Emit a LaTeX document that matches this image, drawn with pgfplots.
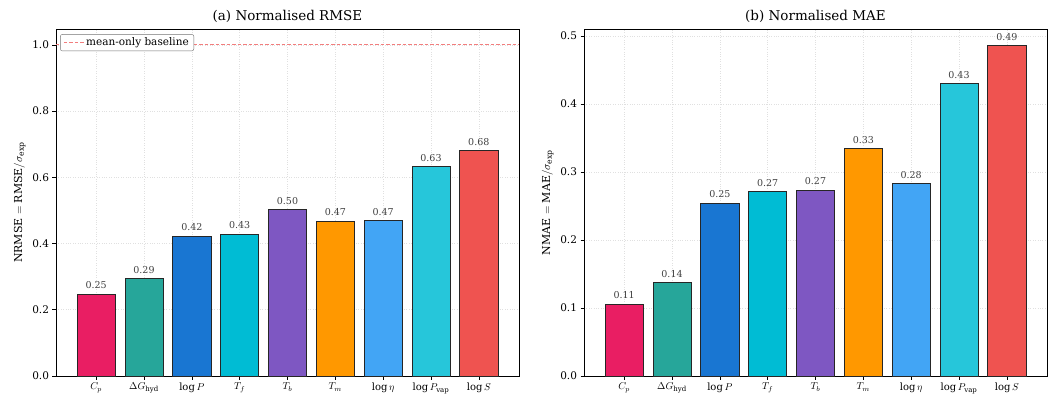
\documentclass[border=0pt]{standalone}
\usepackage{pgfplots}
\pgfplotsset{compat=1.18}
\usepackage{fontspec}
\setmainfont{DejaVu Serif}
\definecolor{cCp}{HTML}{E91E63}
\definecolor{cDG}{HTML}{26A69A}
\definecolor{cLP}{HTML}{1976D2}
\definecolor{cTf}{HTML}{00BCD4}
\definecolor{cTb}{HTML}{7E57C2}
\definecolor{cTm}{HTML}{FF9800}
\definecolor{cEta}{HTML}{42A5F5}
\definecolor{cPv}{HTML}{26C6DA}
\definecolor{cS}{HTML}{EF5350}
\definecolor{baseRed}{RGB}{242,125,125}
\pgfplotsset{
  panel/.style={
    scale only axis, width=463pt, height=347pt, anchor=south west,
    xmin=-0.84, xmax=8.84, ymin=0,
    xtick={0,...,8},
    xticklabels={$C_p$,$\Delta G_{\mathrm{hyd}}$,$\log P$,$T_f$,$T_b$,$T_m$,$\log\eta$,$\log P_{\mathrm{vap}}$,$\log S$},
    x tick label style={font=\fontsize{10}{11}\selectfont},
    y tick label style={font=\fontsize{10.5}{12}\selectfont},
    /pgf/number format/assume math mode=true,
    yticklabel style={/pgf/number format/.cd, fixed, fixed zerofill, precision=1},
    tick align=outside, tick pos=left,
    major tick length=3.5pt,
    every tick/.style={black, line width=0.6pt},
    axis line style={line width=0.8pt},
    grid=major, major grid style={dotted, black!12, line width=0.6pt},
    title style={font=\fontsize{13.5}{15}\selectfont, yshift=-3pt},
    ylabel style={font=\fontsize{11}{13}\selectfont},
  },
  barsty/.style={ybar, bar width=0.8, bar shift=0pt, fill=#1, draw=black!85, line width=0.7pt, forget plot,
    nodes near coords={\pgfmathprintnumber[fixed,fixed zerofill,precision=2,assume math mode=true]{\pgfplotspointmeta}},
    every node near coord/.append style={font=\fontsize{9.5}{11}\selectfont, color=black!75, yshift=1.5pt}},
}
\begin{document}
\begin{tikzpicture}[x=1pt,y=1pt]
\useasboundingbox (0,0) rectangle (1054,394);
\begin{axis}[panel, at={(56pt,18pt)}, ymax=1.048,
  ytick={0,0.2,0.4,0.6,0.8,1.0},
  title={(a) Normalised RMSE},
  ylabel={NRMSE $=\mathrm{RMSE}/\sigma_{\mathrm{exp}}$},
  legend style={at={(0.009,0.985)}, anchor=north west, font=\fontsize{10.5}{12}\selectfont, draw=black!55, rounded corners=2pt, inner xsep=3pt, inner ysep=1.5pt, fill=white},
  legend cell align=left,
  legend image code/.code={\draw[#1] (0cm,0cm) -- (0.7cm,0cm);},
]
\addplot[color=baseRed, no markers, dash pattern=on 3.5pt off 2pt, line width=0.8pt] coordinates {(-0.84,1.0) (8.84,1.0)};
\addlegendentry{mean-only baseline}
\addplot[barsty=cCp]  coordinates {(0,0.247)};
\addplot[barsty=cDG]  coordinates {(1,0.294)};
\addplot[barsty=cLP]  coordinates {(2,0.422)};
\addplot[barsty=cTf]  coordinates {(3,0.429)};
\addplot[barsty=cTb]  coordinates {(4,0.502)};
\addplot[barsty=cTm]  coordinates {(5,0.468)};
\addplot[barsty=cEta] coordinates {(6,0.469)};
\addplot[barsty=cPv]  coordinates {(7,0.633)};
\addplot[barsty=cS]   coordinates {(8,0.680)};
\end{axis}
\begin{axis}[panel, at={(584pt,18pt)}, ymax=0.51,
  ytick={0,0.1,0.2,0.3,0.4,0.5},
  title={(b) Normalised MAE},
  ylabel={NMAE $=\mathrm{MAE}/\sigma_{\mathrm{exp}}$},
]
\addplot[barsty=cCp]  coordinates {(0,0.106)};
\addplot[barsty=cDG]  coordinates {(1,0.137)};
\addplot[barsty=cLP]  coordinates {(2,0.254)};
\addplot[barsty=cTf]  coordinates {(3,0.271)};
\addplot[barsty=cTb]  coordinates {(4,0.273)};
\addplot[barsty=cTm]  coordinates {(5,0.334)};
\addplot[barsty=cEta] coordinates {(6,0.283)};
\addplot[barsty=cPv]  coordinates {(7,0.430)};
\addplot[barsty=cS]   coordinates {(8,0.486)};
\end{axis}
\end{tikzpicture}
\end{document}
